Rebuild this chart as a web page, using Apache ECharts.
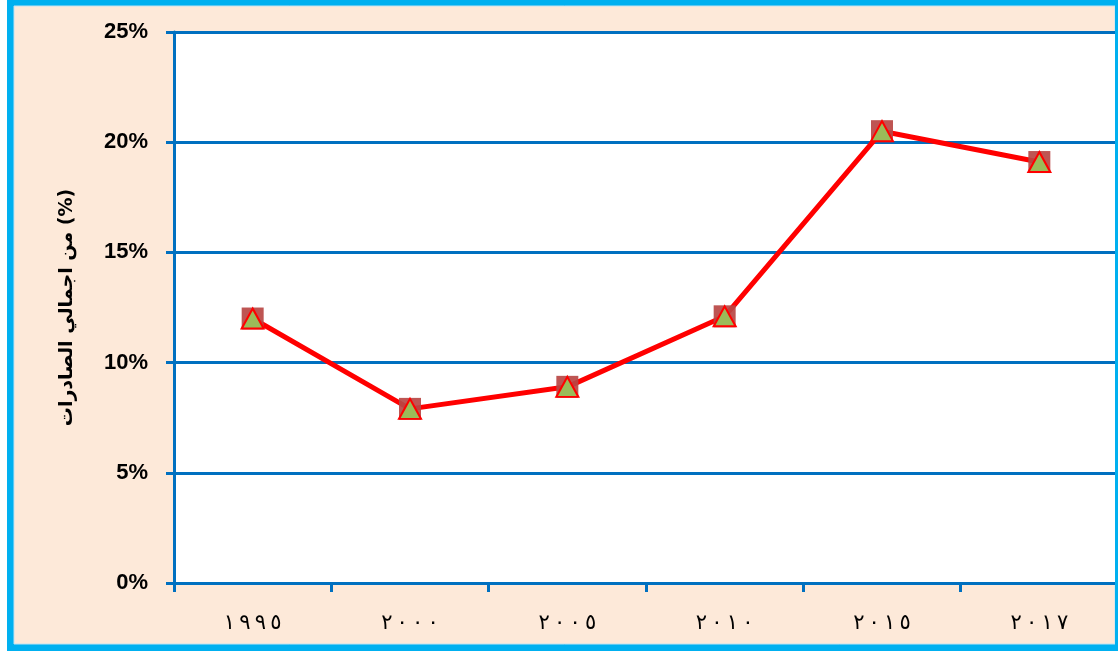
<!DOCTYPE html>
<html>
<head>
<meta charset="utf-8">
<script src="https://cdn.jsdelivr.net/npm/echarts@6/dist/echarts.min.js"></script>
<style>
  html, body { margin: 0; padding: 0; background: #ffffff; }
  #chart { width: 1118px; height: 651px; }
</style>
</head>
<body>
<div id="chart"></div>
<script>
// Years (Arabic-Indic digits) and export share in percent
const years = ['١٩٩٥', '٢٠٠٠', '٢٠٠٥', '٢٠١٠', '٢٠١٥', '٢٠١٧'];
const shares = [12.0, 7.9, 8.9, 12.1, 20.5, 19.1];
const axisTitle = 'من اجمالي الصادرات (%)';

const chart = echarts.init(document.getElementById('chart'), null, { renderer: 'canvas' });

// spread the digits apart while keeping their left-to-right order
const spaced = s => '\u202D' + s.split('').join('\u2009') + '\u202C';

chart.setOption({
  animation: false,
  backgroundColor: '#ffffff',
  graphic: [
    { type: 'rect', z: -20, silent: true, shape: { x: 7, y: 0, width: 1111, height: 651 }, style: { fill: '#00B0F0' } },
    { type: 'rect', z: -19, silent: true, shape: { x: 14, y: 6, width: 1101, height: 638 }, style: { fill: '#FDE9D9', stroke: '#bfe3f3', lineWidth: 1 } },
    { type: 'rect', z: 100, silent: true, shape: { x: 1115, y: 0, width: 3, height: 651 }, style: { fill: '#00B0F0' } }
  ],
  grid: {
    left: 174, top: 32, width: 944, bottom: 68,
    show: true, backgroundColor: '#ffffff', borderWidth: 0
  },
  xAxis: {
    type: 'category',
    data: years,
    boundaryGap: true,
    axisLine: { lineStyle: { color: '#0070C0', width: 3 } },
    axisTick: { show: true, length: 9, lineStyle: { color: '#0070C0', width: 3 } },
    axisLabel: {
      margin: 30,
      color: '#000000',
      fontFamily: 'DejaVu Sans',
      fontSize: 21,
      formatter: v => spaced(v)
    },
    splitLine: { show: false }
  },
  yAxis: {
    type: 'value',
    min: 0, max: 25, interval: 5,
    name: axisTitle,
    nameLocation: 'middle',
    nameRotate: 90,
    nameGap: 97,
    nameTextStyle: { color: '#000000', fontFamily: 'DejaVu Sans', fontWeight: 'bold', fontSize: 19 },
    axisLine: { show: true, lineStyle: { color: '#0070C0', width: 3 } },
    axisTick: { show: true, length: 8, lineStyle: { color: '#0070C0', width: 3 } },
    axisLabel: {
      margin: 26,
      color: '#000000',
      fontFamily: 'Liberation Sans',
      fontWeight: 'bold',
      fontSize: 22,
      formatter: v => v + '%'
    },
    splitLine: { show: true, lineStyle: { color: '#0070C0', width: 3 } }
  },
  series: [
    {
      type: 'line',
      data: shares,
      symbol: 'rect',
      symbolSize: 22,
      lineStyle: { color: '#FF0000', width: 5 },
      itemStyle: { color: 'rgba(185,70,68,0.92)', borderWidth: 0 },
      z: 3
    },
    {
      type: 'scatter',
      data: shares,
      symbol: 'triangle',
      symbolSize: [22, 20],
      itemStyle: { color: '#9BBB59', borderColor: '#FF0000', borderWidth: 2, opacity: 1 },
      z: 4
    }
  ]
});
</script>
</body>
</html>
